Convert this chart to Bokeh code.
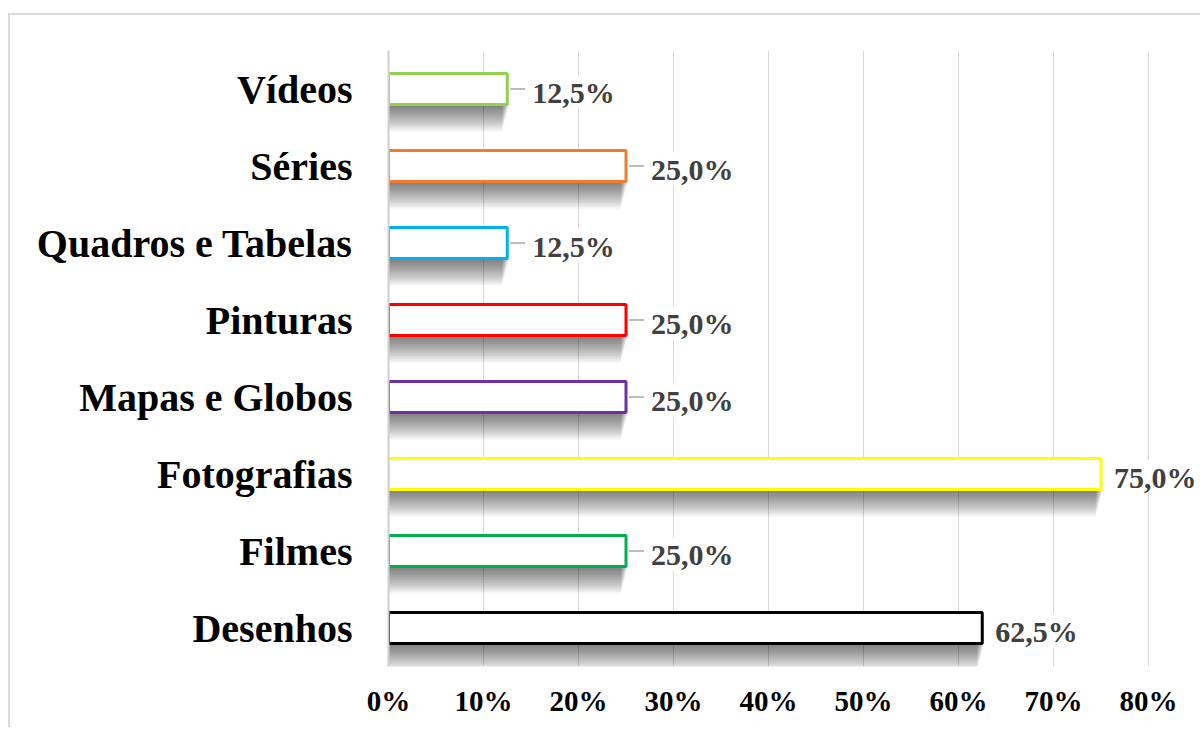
from bokeh.plotting import figure
from bokeh.models import Range1d, FixedTicker
from bokeh.embed import file_html
from bokeh.resources import INLINE
from bokeh.core.properties import value

# ---- data ----
categories = ["Vídeos", "Séries", "Quadros e Tabelas", "Pinturas",
              "Mapas e Globos", "Fotografias", "Filmes", "Desenhos"]
values = [0.125, 0.25, 0.125, 0.25, 0.25, 0.75, 0.25, 0.625]
value_labels = ["12,5%", "25,0%", "12,5%", "25,0%", "25,0%", "75,0%", "25,0%", "62,5%"]
colors = ["#92D050", "#ED7D31", "#00B0F0", "#FF0000",
          "#7030A0", "#FFFF00", "#00B050", "#000000"]
has_leader = [True, True, True, True, True, False, True, False]
tick_values = [0.0, 0.1, 0.2, 0.3, 0.4, 0.5, 0.6, 0.7, 0.8]
tick_labels = ["0%", "10%", "20%", "30%", "40%", "50%", "60%", "70%", "80%"]

# ---- layout constants ----
W, H = 1192, 714
BL, BT, BB, BR = 378, 35, 63, 0
frame_w = W - BL - BR
frame_h = H - BT - BB
X_MAX = frame_w / 950.0
n = len(categories)
PX_X = X_MAX / frame_w
PX_Y = n / frame_h
BAR_H = 31 * PX_Y

ys = [n - 1 - i for i in range(n)]

p = figure(width=W, height=H, output_backend="svg", toolbar_location=None,
           x_range=Range1d(0, X_MAX), y_range=Range1d(-0.5, n - 0.5),
           min_border_left=BL, min_border_top=BT, min_border_bottom=BB,
           min_border_right=BR)
p.styles = {"border-left": "2px solid #d9d9d9", "border-top": "2px solid #d9d9d9",
            "position": "relative", "top": "13px", "left": "8px"}
p.outline_line_color = None
p.background_fill_color = "white"
p.border_fill_color = "white"

# shadows (layered translucent quads)
N = 16
for k in range(1, N + 1):
    p.quad(left=[-2 * PX_X] * n,
           right=[v + (2 - k * 0.45) * PX_X for v in values],
           top=ys,
           bottom=[y - BAR_H / 2 - k * 1.7 * PX_Y for y in ys],
           fill_color="black", fill_alpha=0.04, line_color=None)

# bars
p.hbar(y=ys, left=0, right=values, height=BAR_H, fill_color="white",
       line_color=colors, line_width=3)

# leader lines
lx0 = [v + 3 * PX_X for v, l in zip(values, has_leader) if l]
lx1 = [v + 18 * PX_X for v, l in zip(values, has_leader) if l]
ly = [y for y, l in zip(ys, has_leader) if l]
p.segment(x0=lx0, x1=lx1, y0=ly, y1=ly, line_color="#a6a6a6", line_width=1.5)

# value labels
offsets = [25 if l else 13 for l in has_leader]
p.text(x=values, y=ys, text=value_labels, x_offset=offsets, y_offset=3,
       text_align="left", text_baseline="middle",
       text_font=value("Liberation Serif"), text_font_style="bold",
       text_font_size="30px", text_color="#404040",
       background_fill_color="white")

# axes
p.yaxis.ticker = FixedTicker(ticks=ys)
p.yaxis.major_label_overrides = {y: c for y, c in zip(ys, categories)}
p.yaxis.major_tick_line_color = None
p.yaxis.minor_tick_line_color = None
p.yaxis.axis_line_color = "#cfcfcf"
p.yaxis.axis_line_width = 2
p.yaxis.major_label_text_font = "Liberation Serif"
p.yaxis.major_label_text_font_style = "bold"
p.yaxis.major_label_text_font_size = "40px"
p.yaxis.major_label_text_color = "black"
p.yaxis.major_label_standoff = 30

p.xaxis.ticker = FixedTicker(ticks=tick_values)
p.xaxis.major_label_overrides = {t: l for t, l in zip(tick_values, tick_labels)}
p.xaxis.axis_line_color = None
p.xaxis.major_tick_line_color = None
p.xaxis.minor_tick_line_color = None
p.xaxis.major_label_text_font = "Liberation Serif"
p.xaxis.major_label_text_font_style = "bold"
p.xaxis.major_label_text_font_size = "29px"
p.xaxis.major_label_text_color = "black"
p.xaxis.major_label_standoff = 12

p.xgrid.ticker = FixedTicker(ticks=tick_values)
p.xgrid.grid_line_color = "#d9d9d9"
p.xgrid.grid_line_width = 1
p.ygrid.grid_line_color = None

open("out.html", "w").write(file_html(p, INLINE))
